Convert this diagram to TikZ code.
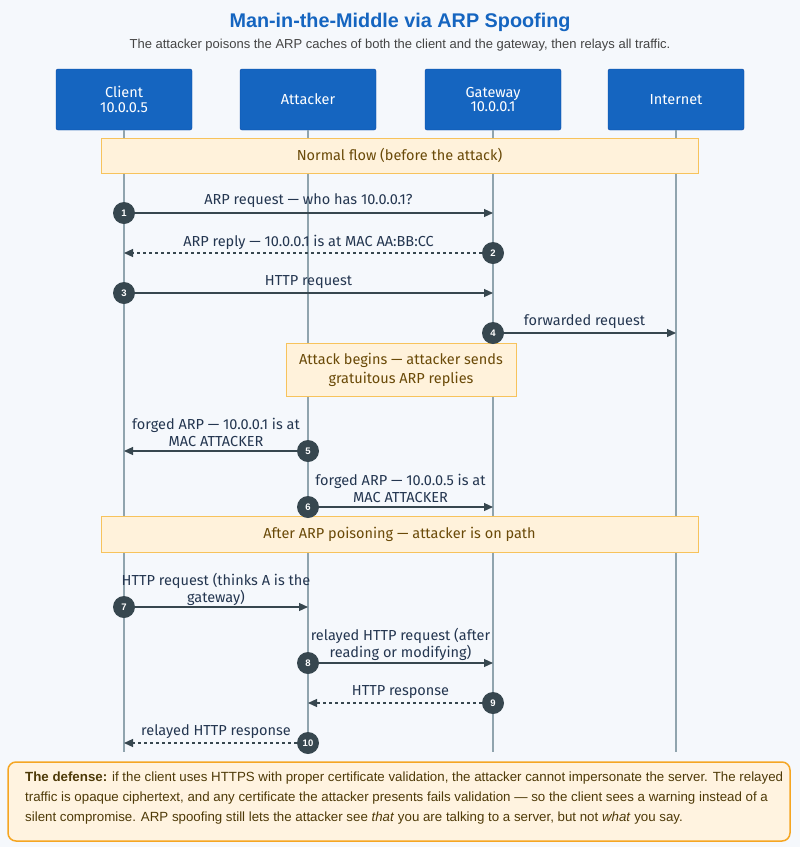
\documentclass[tikz,border=0pt]{standalone}
\usepackage{fontspec}
\setmainfont{Liberation Sans}
\newfontfamily\seqfont{Fira Sans}
\usetikzlibrary{arrows.meta}

\definecolor{pagebg}{HTML}{F5F8FC}
\definecolor{mmblue}{HTML}{1565C0}
\definecolor{mmblueborder}{HTML}{0D47A1}
\definecolor{lifegray}{HTML}{90A4AE}
\definecolor{stepfill}{HTML}{37474F}
\definecolor{msgtext}{HTML}{243650}
\definecolor{notefill}{HTML}{FFF2DB}
\definecolor{noteborder}{HTML}{F7C35C}
\definecolor{notetext}{HTML}{6A4A08}
\definecolor{defborder}{HTML}{F5A623}
\definecolor{deffill}{HTML}{FFF3E0}
\definecolor{deftext}{HTML}{4E3A08}
\definecolor{subgray}{HTML}{444444}

\tikzset{
  actor/.style={draw=mmblueborder, fill=mmblue, rounded corners=2pt, minimum width=136pt,
    minimum height=61pt, text=white, align=center, inner sep=0pt,
    font=\seqfont\fontsize{14.5}{14.5}\selectfont},
  lifeline/.style={draw=lifegray, line width=1.5pt},
  notebox/.style={draw=noteborder, fill=notefill, text=notetext, align=center, inner sep=0pt,
    font=\seqfont\fontsize{14.5}{19}\selectfont},
  stepnum/.style={circle, fill=stepfill, text=white, minimum size=22pt, inner sep=0pt,
    font=\bfseries\fontsize{9.5}{9.5}\selectfont},
  msg/.style={draw=stepfill, line width=1.2pt, -{Triangle[length=9pt,width=8pt]}},
  reply/.style={msg, dash pattern=on 3pt off 3pt},
  msglabel/.style={text=msgtext, align=center, inner sep=0pt,
    font=\seqfont\fontsize{14.5}{17}\selectfont}
}

\begin{document}
\begin{tikzpicture}[x=1pt,y=-1pt]
% page
\fill[pagebg] (0,0) rectangle (800,847);
\useasboundingbox (0,0) rectangle (800,847);

% title
\node[text=mmblue, font=\bfseries\fontsize{19.8}{22}\selectfont] (title) at (400,22) {Man-in-the-Middle via ARP Spoofing};
\node[text=subgray, font=\fontsize{13}{15}\selectfont] (subtitle) at (400,45) {The attacker poisons the ARP caches of both the client and the gateway, then relays all traffic.};

% participants
\node[actor] (client) at (124,99.5) {Client\\10.0.0.5};
\node[actor] (attacker) at (308,99.5) {Attacker};
\node[actor] (gateway) at (493,99.5) {Gateway\\10.0.0.1};
\node[actor] (internet) at (676,99.5) {Internet};

% lifelines
\coordinate (clientend) at (124,752);
\coordinate (attackerend) at (308,752);
\coordinate (gatewayend) at (493,752);
\coordinate (internetend) at (676,752);
\draw[lifeline] (client.south) -- (clientend);
\draw[lifeline] (attacker.south) -- (attackerend);
\draw[lifeline] (gateway.south) -- (gatewayend);
\draw[lifeline] (internet.south) -- (internetend);

% notes
\node[notebox, minimum width=597pt, minimum height=35pt] (normal) at (399.5,155.5) {Normal flow (before the attack)};
\node[notebox, minimum width=230pt, minimum height=53pt] (attack) at (401,369.5) {Attack begins — attacker sends\\gratuitous ARP replies};
\node[notebox, minimum width=597pt, minimum height=36pt] (after) at (399.5,534) {After ARP poisoning — attacker is on path};

% 1
\coordinate (t1) at (493,213);
\node[stepnum] (n1) at (124,213) {1};
\draw[msg] (n1) -- (t1);
\node[msglabel] (l1) at (308.5,201) {ARP request — who has 10.0.0.1?};
% 2
\coordinate (t2) at (124,253);
\node[stepnum] (n2) at (493,253) {2};
\draw[reply] (n2) -- (t2);
\node[msglabel] (l2) at (308.5,242) {ARP reply — 10.0.0.1 is at MAC AA:BB:CC};
% 3
\coordinate (t3) at (493,293);
\node[stepnum] (n3) at (124,293) {3};
\draw[msg] (n3) -- (t3);
\node[msglabel] (l3) at (308.5,282) {HTTP request};
% 4
\coordinate (t4) at (676,333);
\node[stepnum] (n4) at (493,333) {4};
\draw[msg] (n4) -- (t4);
\node[msglabel] (l4) at (584.5,322) {forwarded request};
% 5
\coordinate (t5) at (124,451);
\node[stepnum] (n5) at (308,451) {5};
\draw[msg] (n5) -- (t5);
\node[msglabel] (l5) at (216,432.5) {forged ARP — 10.0.0.1 is at\\MAC ATTACKER};
% 6
\coordinate (t6) at (493,507);
\node[stepnum] (n6) at (308,507) {6};
\draw[msg] (n6) -- (t6);
\node[msglabel] (l6) at (400.5,488.5) {forged ARP — 10.0.0.5 is at\\MAC ATTACKER};
% 7
\coordinate (t7) at (308,607);
\node[stepnum] (n7) at (124,607) {7};
\draw[msg] (n7) -- (t7);
\node[msglabel] (l7) at (216,589) {HTTP request (thinks A is the\\gateway)};
% 8
\coordinate (t8) at (493,663);
\node[stepnum] (n8) at (308,663) {8};
\draw[msg] (n8) -- (t8);
\node[msglabel] (l8) at (400.5,644.5) {relayed HTTP request (after\\reading or modifying)};
% 9
\coordinate (t9) at (308,703);
\node[stepnum] (n9) at (493,703) {9};
\draw[reply] (n9) -- (t9);
\node[msglabel] (l9) at (400.5,692) {HTTP response};
% 10
\coordinate (t10) at (124,743);
\node[stepnum] (n10) at (308,743) {10};
\draw[reply] (n10) -- (t10);
\node[msglabel] (l10) at (216,732) {relayed HTTP response};

% defense box
\draw[draw=defborder, fill=deffill, line width=1.5pt, rounded corners=8pt] (8,762) rectangle (790,841);
\node[anchor=north west, text=deftext, align=left, inner sep=0pt,
  font=\fontsize{13.3}{20}\selectfont] (defense) at (25,772)
  {\textbf{The defense:} if the client uses HTTPS with proper certificate validation, the attacker cannot impersonate the server. The relayed\\
   traffic is opaque ciphertext, and any certificate the attacker presents fails validation — so the client sees a warning instead of a\\
   silent compromise. ARP spoofing still lets the attacker see \textit{that} you are talking to a server, but not \textit{what} you say.};
\end{tikzpicture}
\end{document}
